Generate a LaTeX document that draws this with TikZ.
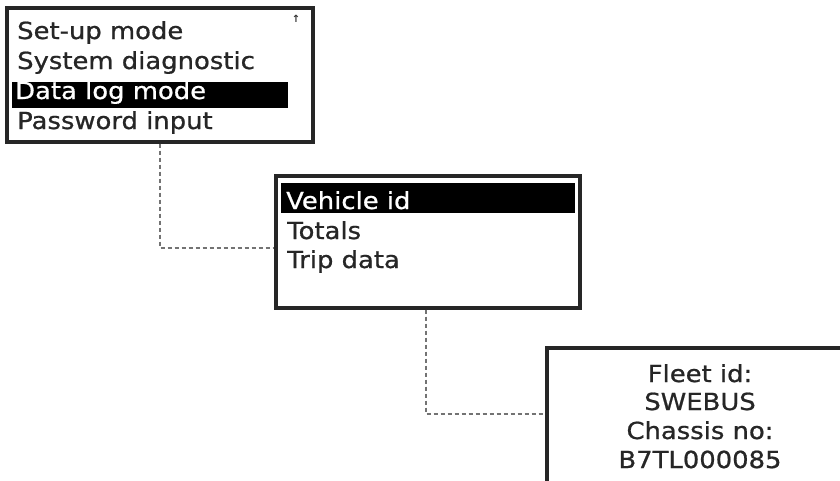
\documentclass[tikz,border=0pt]{standalone}
\usepackage{fontspec}
\setmainfont{DejaVu Sans}[FakeStretch=1.1,FakeBold=0.8]
\newfontfamily\arrowfont{DejaVu Sans}
\begin{document}
\begin{tikzpicture}[x=1pt,y=-1pt,
  menubox/.style={draw=black!85, line width=3.2pt, fill=white, inner sep=0pt},
  conn/.style={draw=black!55, line width=1.5pt, dash pattern=on 4pt off 3pt},
  item/.style={anchor=base west, inner sep=0pt, text=black!85, font=\fontsize{23.5}{28}\selectfont},
  hitem/.style={item, text=white},
  citem/.style={anchor=base, inner sep=0pt, text=black!85, font=\fontsize{23.5}{28}\selectfont},
  bar/.style={fill=black}]
\clip (0,0) rectangle (840,480);
\fill[white] (0,0) rectangle (840,480);
% boxes
\node[menubox, minimum width=306pt, minimum height=134pt] (m1) at (160,75) {};
\node[menubox, minimum width=304pt, minimum height=132pt] (m2) at (428,242) {};
\node[menubox, minimum width=320pt, minimum height=150pt] (m3) at (707,423) {};
% connectors
\draw[conn] (m1.south) |- ([yshift=-6pt]m2.west);
\draw[conn] ([xshift=-2pt]m2.south) |- ([yshift=9pt]m3.west);
% box 1 contents
\fill[bar] (12,82) rectangle (288,108);
\node[item]  (t1) at (17,39)  {Set-up mode};
\node[item]  (t2) at (17,69)  {System diagnostic};
\node[hitem] (t3) at (15,99)  {Data log mode};
\node[item]  (t4) at (17,129) {Password input};
\node[anchor=center, inner sep=0pt, text=black!80, font=\arrowfont\fontsize{10}{10}\selectfont\bfseries] (up) at (296,19) {↑};
% box 2 contents
\fill[bar] (281,183) rectangle (575,213);
\node[hitem] (v1) at (286,209) {Vehicle id};
\node[item]  (v2) at (287,239) {Totals};
\node[item]  (v3) at (287,268) {Trip data};
% box 3 contents
\node[citem] (f1) at (700,382) {Fleet id:};
\node[citem] (f2) at (700,410) {SWEBUS};
\node[citem] (f3) at (700,439) {Chassis no:};
\node[citem] (f4) at (700,468) {B7TL000085};
\end{tikzpicture}
\end{document}
